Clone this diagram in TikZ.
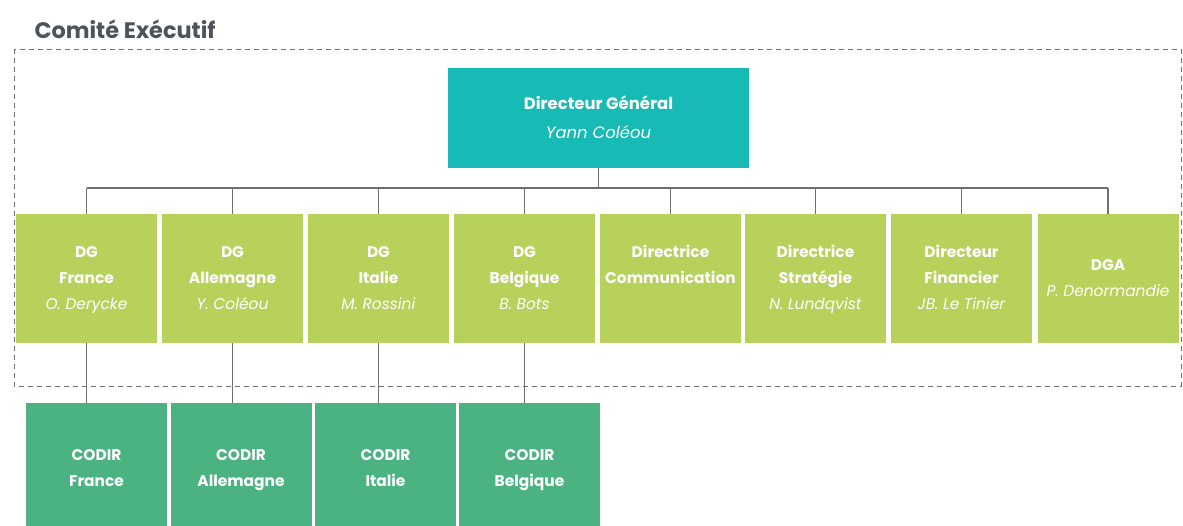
\documentclass[tikz,border=0pt]{standalone}
\usepackage{fontspec}
\setmainfont{Poppins}
\usetikzlibrary{calc}
\definecolor{teal1}{HTML}{17BAB5}
\definecolor{lime1}{HTML}{B7D15B}
\definecolor{codir1}{HTML}{4BB281}
\definecolor{line1}{HTML}{707070}
\definecolor{title1}{HTML}{4E5259}
\newcommand{\bl}[1]{\strut\textbf{#1}}
\newcommand{\il}[1]{\strut\textit{#1}}
\begin{document}
\begin{tikzpicture}[x=1bp,y=-1bp,
  boxtext/.style={text=white,align=center,font=\fontsize{15.5}{26}\selectfont,inner sep=0pt},
  dgbox/.style={fill=teal1,minimum width=301bp,minimum height=100bp,boxtext,font=\fontsize{16.5}{30}\selectfont},
  gbox/.style={fill=lime1,minimum width=141bp,minimum height=129bp,boxtext},
  cbox/.style={fill=codir1,minimum width=141bp,minimum height=129bp,boxtext},
  conn/.style={draw=line1,line width=1.4bp}
]
\useasboundingbox (0,0) rectangle (1183,526);
\begin{scope}
\clip (0,0) rectangle (1183,526);
\node[anchor=west,text=title1,font=\fontsize{22.5}{24}\selectfont\bfseries] (title) at (31,29) {Comité Exécutif};
\draw[line1,dashed,dash pattern=on 5bp off 4bp,line width=0.9bp] (14,49) rectangle (1181,386);

\node[dgbox] (dg) at (598.5,118) {\bl{Directeur Général}\\\il{Yann Coléou}};

\node[gbox] (g1) at (86.5,278.5) {\bl{DG}\\\bl{France}\\\il{O. Derycke}};
\node[gbox] (g2) at (232.5,278.5) {\bl{DG}\\\bl{Allemagne}\\\il{Y. Coléou}};
\node[gbox] (g3) at (378.5,278.5) {\bl{DG}\\\bl{Italie}\\\il{M. Rossini}};
\node[gbox] (g4) at (524.5,278.5) {\bl{DG}\\\bl{Belgique}\\\il{B. Bots}};
\node[gbox] (g5) at (670.5,278.5) {\bl{Directrice}\\\bl{Communication}\\\strut};
\node[gbox] (g6) at (815.5,278.5) {\bl{Directrice}\\\bl{Stratégie}\\\il{N. Lundqvist}};
\node[gbox] (g7) at (961.5,278.5) {\bl{Directeur}\\\bl{Financier}\\\il{JB. Le Tinier}};
\node[gbox] (g8) at (1108,278.5) {\bl{DGA}\\\il{P. Denormandie}};

\node[cbox] (c1) at (96.5,468) {\bl{CODIR}\\\bl{France}};
\node[cbox] (c2) at (241,468) {\bl{CODIR}\\\bl{Allemagne}};
\node[cbox] (c3) at (385.5,468) {\bl{CODIR}\\\bl{Italie}};
\node[cbox] (c4) at (529.5,468) {\bl{CODIR}\\\bl{Belgique}};

\coordinate (bus) at (0,188);
\draw[conn] (dg.south) -- (dg.south |- bus);
\draw[conn] (g1.north |- bus) -- (g8.north |- bus);
\foreach \g in {g1,g2,g3,g4,g5,g6,g7,g8}{
  \draw[conn] (\g.north |- bus) -- (\g.north);
}
\foreach \g/\c in {g1/c1,g2/c2,g3/c3,g4/c4}{
  \draw[conn] (\g.south) -- (\g.south |- \c.north);
}
\end{scope}
\end{tikzpicture}
\end{document}
